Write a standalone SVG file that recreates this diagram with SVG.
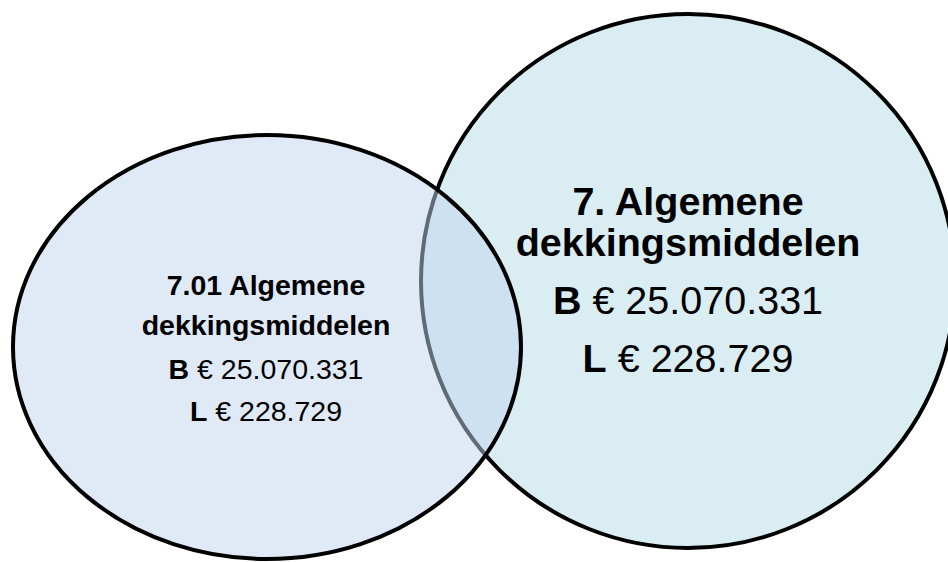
<svg xmlns="http://www.w3.org/2000/svg" width="948" height="562" viewBox="0 0 948 562">
<style>
  .shape { stroke: #000; stroke-width: 4; }
  .t { font-family: "Liberation Sans", Arial, sans-serif; fill: #000; text-anchor: middle; }
  .b { font-weight: bold; }
  .big { font-size: 39.5px; }
  .small { font-size: 28.5px; }
</style>
<rect width="948" height="562" fill="#ffffff"/>
<g id="node-7">
  <ellipse class="shape" cx="688" cy="281" rx="267" ry="267" fill="#daedf3"/>
  <text class="t b big" x="688" y="215">7. Algemene</text>
  <text class="t b big" x="688" y="256">dekkingsmiddelen</text>
  <text class="t big" x="688" y="314"><tspan class="b">B</tspan> € 25.070.331</text>
  <text class="t big" x="688" y="372"><tspan class="b">L</tspan> € 228.729</text>
</g>
<g id="node-7-01">
  <ellipse class="shape" cx="267" cy="347" rx="254" ry="212" fill="rgb(193,213,237)" fill-opacity="0.5"/>
  <text class="t b small" x="266" y="295">7.01 Algemene</text>
  <text class="t b small" x="266" y="335">dekkingsmiddelen</text>
  <text class="t small" x="266" y="379"><tspan class="b">B</tspan> € 25.070.331</text>
  <text class="t small" x="266" y="421"><tspan class="b">L</tspan> € 228.729</text>
</g>
<g id="connectors"></g>
</svg>
